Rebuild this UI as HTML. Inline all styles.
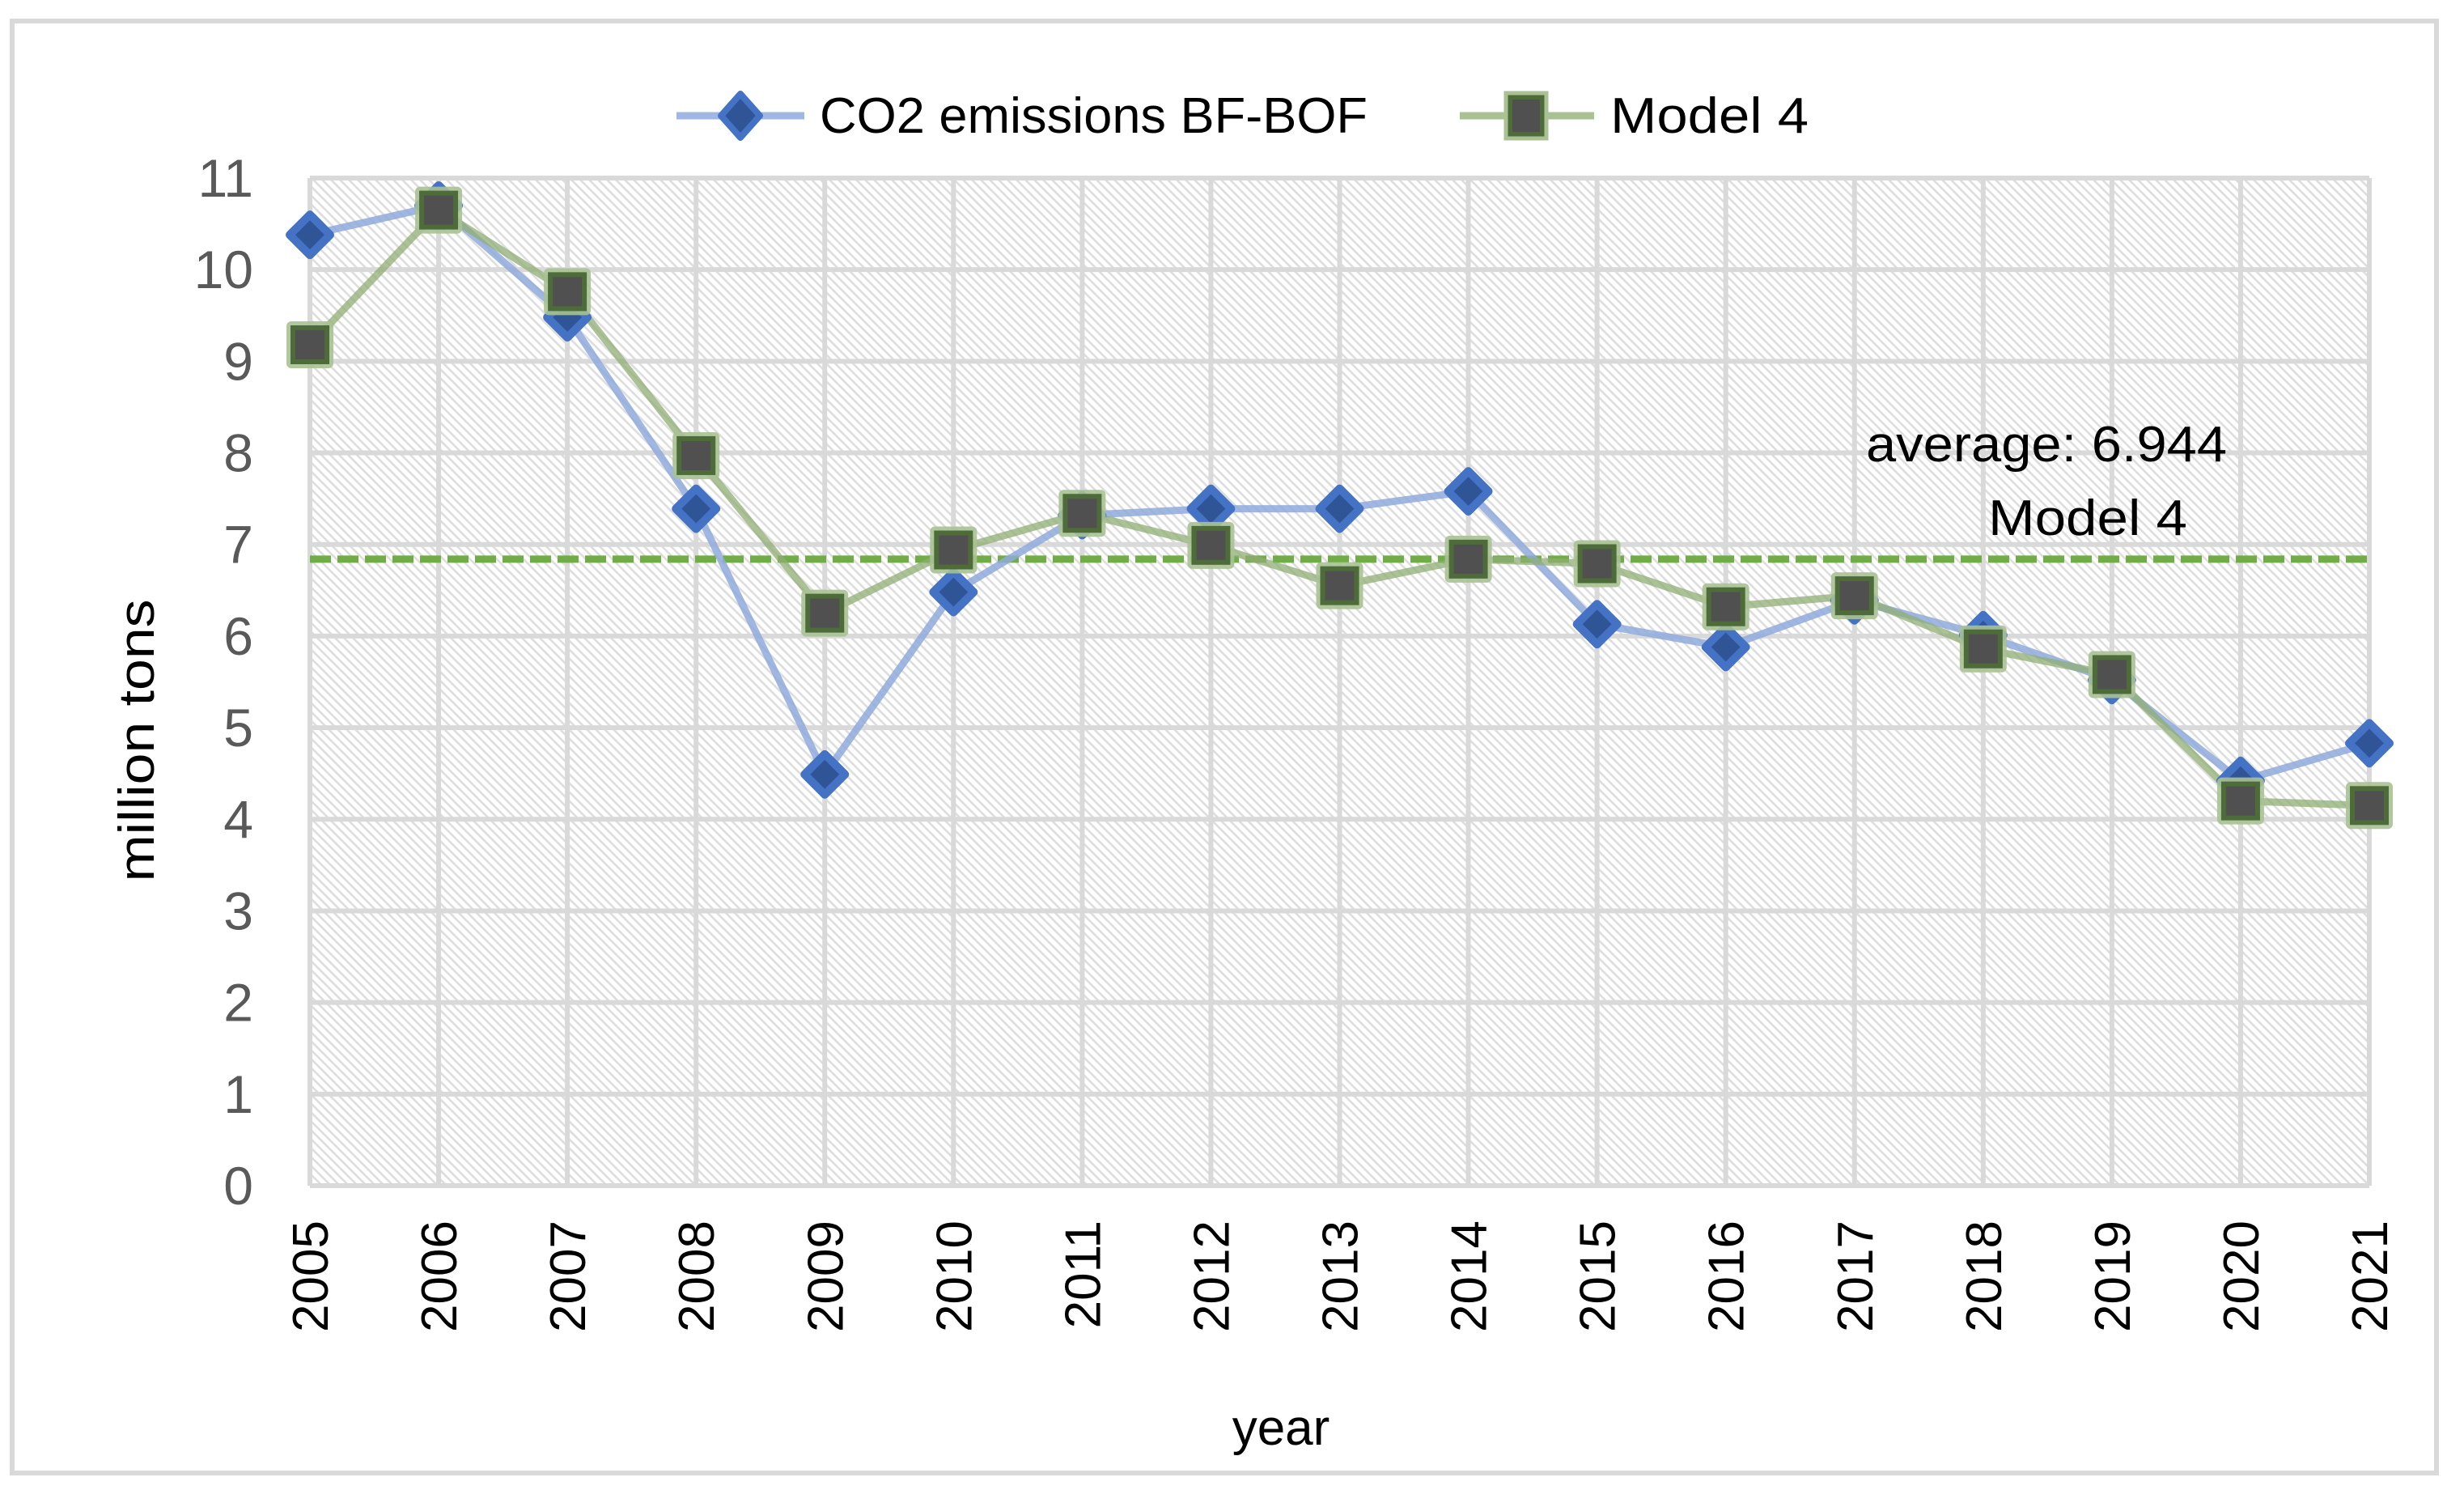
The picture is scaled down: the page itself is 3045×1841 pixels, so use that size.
<!DOCTYPE html>
<html><head><meta charset="utf-8"><style>
html,body{margin:0;padding:0;background:#fff;}
svg{display:block;font-family:"Liberation Sans",sans-serif;}
</style></head><body>
<svg id="chart" width="3045" height="1841" viewBox="0 0 3045 1841" xmlns="http://www.w3.org/2000/svg">
<defs>
<pattern id="hatch" width="11" height="11" patternUnits="userSpaceOnUse">
<rect width="11" height="11" fill="#ffffff"/>
<path d="M-2,-2 L13,13 M-2,9 L2,13 M9,-2 L13,2" stroke="#dedede" stroke-width="2.6"/>
</pattern>
</defs>
<rect x="15" y="26" width="2996" height="1794" fill="#fff" stroke="#d9d9d9" stroke-width="6"/>
<rect x="383" y="220" width="2545" height="1245" fill="url(#hatch)"/>
<g id="grid"></g>
<g id="yticks"></g>
<g id="xticks"></g>
<g id="avg"></g>
<g id="series"></g>
<text x="2306" y="570" font-size="62" fill="#000" textLength="446" lengthAdjust="spacingAndGlyphs">average: 6.944</text>
<text x="2457" y="661" font-size="62" fill="#000" textLength="246" lengthAdjust="spacingAndGlyphs">Model 4</text>
<text transform="translate(190,915) rotate(-90)" font-size="62" text-anchor="middle" fill="#000" textLength="349" lengthAdjust="spacingAndGlyphs">million tons</text>
<text x="1583" y="1785" font-size="62" text-anchor="middle" fill="#000">year</text>
<g>
<g>
<line x1="836" y1="143" x2="994" y2="143" stroke="#9fb7e2" stroke-width="9"/>
<polygon points="915,116 939,143 915,170 891,143" fill="#2f5597" stroke="#4472c4" stroke-width="8" stroke-linejoin="round"/>
<text x="1013" y="164" font-size="62" fill="#000" textLength="677" lengthAdjust="spacingAndGlyphs">CO2 emissions BF-BOF</text>
</g>
<g>
<line x1="1804" y1="143" x2="1970" y2="143" stroke="#a9c193" stroke-width="9"/>
<rect x="1866" y="120" width="40" height="46" fill="#505050" stroke="#4e6b3a" stroke-width="6"/>
<rect x="1861" y="115" width="50" height="56" fill="none" stroke="#a9c193" stroke-width="5"/>
<text x="1990" y="164" font-size="62" fill="#000" textLength="245" lengthAdjust="spacingAndGlyphs">Model 4</text>
</g>
</g>
</svg>
<script>
const years = ["2005","2006","2007","2008","2009","2010","2011","2012","2013","2014","2015","2016","2017","2018","2019","2020","2021"];
const co2Values = [10.38,10.7,9.48,7.39,4.49,6.48,7.32,7.39,7.39,7.58,6.13,5.88,6.39,6.01,5.52,4.42,4.83];
const model4Values = [9.18,10.65,9.76,7.97,6.25,6.94,7.34,6.99,6.55,6.84,6.79,6.32,6.44,5.86,5.58,4.2,4.15];
const averageValue = [6.84];
const yTicks = ["0","1","2","3","4","5","6","7","8","9","10","11"];

const NS="http://www.w3.org/2000/svg";
const L=383,R=2928,T=220,B=1465,YMAX=11;
function x(i){return L+i*(R-L)/(years.length-1);}
function y(v){return B-v*(B-T)/YMAX;}
function mk(tag,attrs,parent){const e=document.createElementNS(NS,tag);for(const k in attrs)e.setAttribute(k,attrs[k]);parent.appendChild(e);return e;}

const grid=document.getElementById('grid');
yTicks.forEach((t,i)=>{
  const v=+t;
  const ln=mk('line',{x1:L,x2:R,y1:y(v),y2:y(v),stroke:'#d9d9d9','stroke-width':6},grid);
  
  
  const tx=mk('text',{x:313,y:y(v)+23,'font-size':66,'text-anchor':'end',fill:'#595959'},document.getElementById('yticks'));
  tx.textContent=t;
  
  
});
years.forEach((yr,i)=>{
  const ln=mk('line',{x1:x(i),x2:x(i),y1:T,y2:B,stroke:'#d9d9d9','stroke-width':6},grid);
  
  
  const tx=mk('text',{transform:`translate(${x(i)+22},1508) rotate(-90)`,'font-size':62,'text-anchor':'end',fill:'#000'},document.getElementById('xticks'));
  tx.textContent=yr;
  
  
});

const avg=mk('line',{x1:L,x2:R,y1:y(averageValue[0]),y2:y(averageValue[0]),stroke:'#70ad47','stroke-width':9,'stroke-dasharray':'26,8'},document.getElementById('avg'));



const sg=document.getElementById('series');
const co2Line=mk('polyline',{points:co2Values.map((v,i)=>x(i)+','+y(v)).join(' '),fill:'none',stroke:'#8faadc','stroke-opacity':0.85,'stroke-width':9,'stroke-linejoin':'round'},sg);


const mLine=mk('polyline',{points:model4Values.map((v,i)=>x(i)+','+y(v)).join(' '),fill:'none',stroke:'#8fad74','stroke-opacity':0.75,'stroke-width':9,'stroke-linejoin':'round'},sg);


co2Values.forEach((v,i)=>{
  const cx=x(i),cy=y(v);
  const d=mk('polygon',{points:`${cx},${cy-25} ${cx+25},${cy} ${cx},${cy+25} ${cx-25},${cy}`,fill:'#2f5597',stroke:'#4472c4','stroke-width':10,'stroke-linejoin':'round'},sg);
  
  
});
model4Values.forEach((v,i)=>{
  const cx=x(i),cy=y(v);
  const g=mk('g',{},sg);
  
  
  mk('rect',{x:cx-26,y:cy-26,width:52,height:52,fill:'none',stroke:'#a9c193','stroke-opacity':0.9,'stroke-width':6,rx:3},g);
  mk('rect',{x:cx-21,y:cy-21,width:42,height:42,fill:'#505050',stroke:'#4e6b3a','stroke-width':6},g);
});
</script>
</body></html>
